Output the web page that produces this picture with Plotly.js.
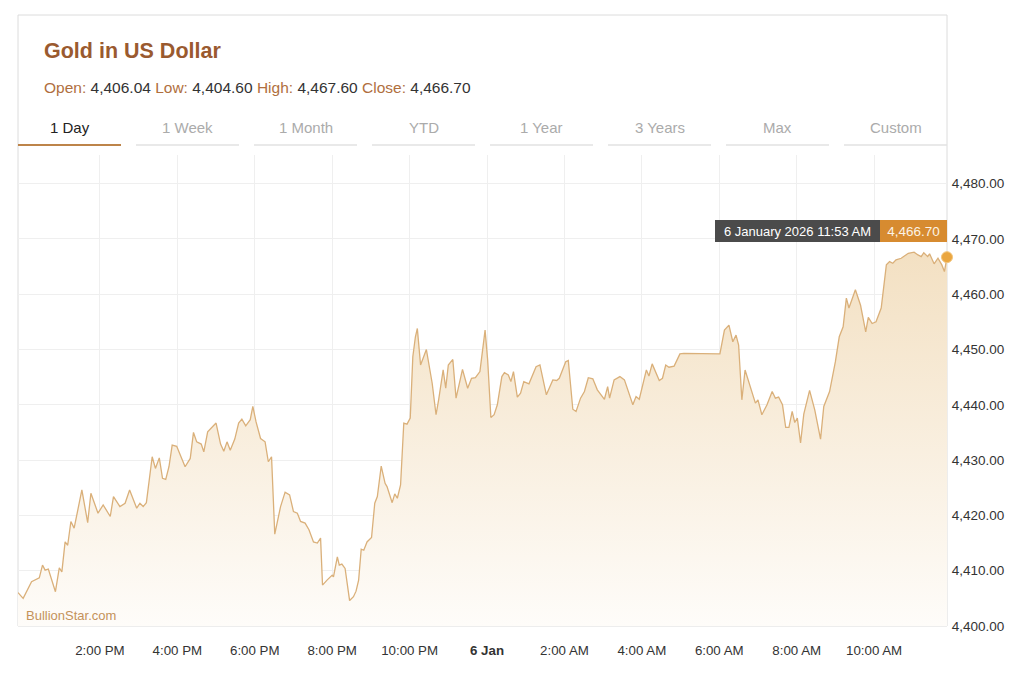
<!DOCTYPE html>
<html><head><meta charset="utf-8">
<script src="https://cdn.plot.ly/plotly-3.0.1.min.js"></script>
<style>html,body{margin:0;padding:0;background:#fff;}#chart{width:1024px;height:674px;}</style>
</head><body><div id="chart"></div>
<script>
const chartTitle = 'Gold in US Dollar';
const statLabels = ['Open', 'Low', 'High', 'Close'];
const statValues = [4406.04, 4404.60, 4467.60, 4466.70];
const tabLabels = ['1 Day', '1 Week', '1 Month', 'YTD', '1 Year', '3 Years', 'Max', 'Custom'];
const watermark = 'BullionStar.com';
const lastLabel = '6 January 2026 11:53 AM';

const timesJan5 = ['11:53','12:01','12:14','12:26','12:31','12:35','12:40','12:51','12:57','13:01','13:06','13:10','13:15','13:20','13:32','13:41','13:46','13:57','14:05','14:16','14:21','14:31','14:39','14:46','14:57','15:02','15:07','15:12','15:21','15:26','15:32','15:37','15:42','15:47','15:52','15:59','16:12','16:20','16:25','16:30','16:37','16:41','16:47','17:00','17:07','17:12','17:17','17:22','17:29','17:35','17:40','17:46','17:53','17:57','18:02','18:09','18:16','18:21','18:26','18:31','18:40','18:47','18:54','19:00','19:06','19:11','19:18','19:24','19:31','19:37','19:42','19:45','19:52','20:00','20:02','20:08','20:11','20:15','20:20','20:27','20:33','20:37','20:41','20:45','20:49','20:54','21:01','21:06','21:10','21:16','21:22','21:25','21:33','21:37','21:41','21:46','21:51','21:56','22:01','22:05','22:09','22:12','22:17','22:26','22:35','22:41','22:45','22:52','22:56','23:00','23:07','23:12','23:22','23:30','23:36','23:42','23:49','23:57'];
const pricesJan5 = [4406.04,4405.0,4408.0,4408.7,4411.0,4410.1,4410.3,4406.2,4410.5,4409.8,4415.2,4414.6,4418.9,4417.7,4424.6,4418.7,4424.0,4420.4,4421.9,4419.8,4423.4,4421.6,4422.2,4424.6,4421.3,4422.2,4421.6,4422.3,4430.6,4428.5,4430.4,4426.7,4426.5,4428.8,4432.7,4432.5,4428.8,4430.3,4435.0,4433.3,4432.9,4431.5,4435.1,4436.7,4432.9,4431.6,4433.3,4431.8,4433.8,4436.7,4437.4,4436.2,4437.3,4439.7,4436.9,4433.9,4433.3,4429.7,4430.6,4416.6,4421.6,4424.2,4423.7,4420.7,4420.4,4418.9,4418.6,4417.4,4415.2,4415.0,4415.9,4407.4,4408.3,4409.2,4408.9,4412.5,4411.0,4411.2,4410.4,4404.6,4405.3,4406.3,4408.3,4413.9,4413.7,4415.2,4416.0,4422.2,4423.4,4428.9,4425.8,4425.2,4422.3,4423.9,4423.1,4425.5,4436.7,4436.5,4437.6,4448.7,4452.3,4453.8,4447.2,4450.0,4443.9,4438.2,4440.9,4446.3,4443.0,4447.2,4448.2,4441.2,4446.4,4443.0,4444.8,4444.9,4446.0,4453.5];
const timesJan6 = ['00:01','00:06','00:11','00:16','00:23','00:27','00:33','00:37','00:41','00:47','00:52','00:57','01:05','01:16','01:22','01:32','01:42','01:48','01:52','02:02','02:06','02:13','02:18','02:25','02:31','02:37','02:44','02:51','03:02','03:07','03:10','03:17','03:26','03:33','03:46','03:51','03:56','04:07','04:11','04:16','04:27','04:32','04:37','04:42','04:50','04:59','05:05','06:01','06:08','06:15','06:21','06:26','06:30','06:35','06:40','06:48','06:56','07:00','07:06','07:14','07:22','07:27','07:32','07:38','07:43','07:48','07:53','07:57','08:01','08:06','08:11','08:20','08:28','08:37','08:42','08:51','09:00','09:06','09:12','09:17','09:21','09:31','09:39','09:47','09:51','09:57','10:03','10:11','10:19','10:24','10:29','10:34','10:42','10:53','11:02','11:08','11:13','11:17','11:23','11:26','11:33','11:39','11:45','11:49','11:51','11:53'];
const pricesJan6 = [4448.1,4437.7,4438.2,4440.0,4445.1,4445.8,4445.4,4444.2,4446.0,4441.4,4442.1,4444.2,4443.8,4446.9,4447.2,4441.8,4444.5,4444.4,4444.8,4447.8,4448.0,4439.2,4438.8,4441.2,4442.4,4444.9,4444.7,4442.7,4441.0,4443.3,4441.2,4444.5,4445.1,4444.5,4440.0,4441.5,4441.0,4446.3,4445.2,4447.4,4444.4,4444.8,4447.2,4446.8,4447.0,4449.2,4449.3,4449.2,4453.5,4454.4,4451.4,4452.6,4450.8,4440.9,4446.3,4443.3,4440.3,4440.9,4438.2,4440.0,4442.4,4441.2,4441.4,4440.0,4435.9,4435.9,4438.8,4436.8,4437.6,4433.1,4438.3,4442.6,4439.1,4433.8,4439.7,4442.4,4447.8,4452.3,4454.1,4459.3,4457.5,4460.8,4458.0,4453.2,4455.8,4454.7,4455.0,4457.5,4465.3,4465.9,4465.6,4466.2,4466.5,4467.4,4467.6,4467.1,4466.8,4467.5,4466.8,4467.3,4465.5,4466.5,4465.3,4464.1,4465.3,4466.70];

const xTickVals = ['2026-01-05 14:00','2026-01-05 16:00','2026-01-05 18:00','2026-01-05 20:00','2026-01-05 22:00','2026-01-06 00:00','2026-01-06 02:00','2026-01-06 04:00','2026-01-06 06:00','2026-01-06 08:00','2026-01-06 10:00'];
const xTickText = ['2:00 PM','4:00 PM','6:00 PM','8:00 PM','10:00 PM','<b>6 Jan</b>','2:00 AM','4:00 AM','6:00 AM','8:00 AM','10:00 AM'];
const yTickVals = [4400, 4410, 4420, 4430, 4440, 4450, 4460, 4470, 4480];

const times = timesJan5.map(t => '2026-01-05 ' + t).concat(timesJan6.map(t => '2026-01-06 ' + t));
const prices = pricesJan5.concat(pricesJan6);
const n = prices.length;
const fmt = v => v.toLocaleString('en-US', {minimumFractionDigits: 2, maximumFractionDigits: 2});

// geometry (pixels)
const W = 1024, H = 674;
const L = 18, R = 947, T = 155, B = 626;
const pw = R - L, ph = B - T;
const px = x => (x - L) / pw;
const py = y => (B - y) / ph;
const FONT = 'Liberation Sans, Arial, Helvetica, sans-serif';
const xRange = [times[0], times[n - 1]];
const yRange = [4400, 4400 + ph / 5.53];

const traces = [
  {
    x: times, y: prices, type: 'scatter', mode: 'lines',
    line: {color: '#dab07a', width: 1.3},
    fill: 'tozeroy',
    fillgradient: {type: 'vertical', start: 4400, stop: 4468,
      colorscale: [[0, '#fefcf9'], [1, '#f3e0c2']]},
    hoverinfo: 'skip', showlegend: false
  },
  {
    x: [times[n - 1]], y: [prices[n - 1]], type: 'scatter', mode: 'markers',
    xaxis: 'x2', yaxis: 'y2',
    marker: {size: 11, color: '#eaa640', line: {color: '#f3c57c', width: 1}},
    cliponaxis: false, hoverinfo: 'skip', showlegend: false
  }
];

const shapes = [
  {type: 'rect', xref: 'paper', yref: 'paper', x0: 0, x1: 1, y0: 0, y1: py(15),
   line: {color: '#dcdcdc', width: 1}, fillcolor: 'rgba(0,0,0,0)', layer: 'below'}
];
const annotations = [];
tabLabels.forEach((lab, i) => {
  const x0 = L + i * 118, x1 = x0 + 103;
  shapes.push({type: 'line', xref: 'paper', yref: 'paper', x0: px(x0), x1: px(x1), y0: py(145), y1: py(145),
    line: {color: i === 0 ? '#bd844a' : '#e2e2e2', width: i === 0 ? 2.2 : 1.5}});
  annotations.push({xref: 'paper', yref: 'paper', x: px((x0 + x1) / 2), y: py(127), xanchor: 'center', yanchor: 'middle',
    text: lab, showarrow: false, font: {family: FONT, size: 15, color: i === 0 ? '#222222' : '#ababab'}});
});

annotations.push({xref: 'paper', yref: 'paper', x: px(42), y: py(51), xanchor: 'left', yanchor: 'middle',
  text: '<b>' + chartTitle + '</b>', showarrow: false, font: {family: FONT, size: 21.5, color: '#9a5a2f'}});

const statText = statLabels.map((l, i) => '<span style="color:#b06f3e">' + l + ':</span> ' + fmt(statValues[i])).join(' ');
annotations.push({xref: 'paper', yref: 'paper', x: px(42), y: py(87), xanchor: 'left', yanchor: 'middle',
  text: statText, showarrow: false, font: {family: FONT, size: 15.5, color: '#333333'}});

annotations.push({xref: 'paper', yref: 'paper', x: px(24), y: py(615), xanchor: 'left', yanchor: 'middle',
  text: watermark, showarrow: false, font: {family: FONT, size: 13, color: '#c4925a'}});

annotations.push({xref: 'paper', yref: 'paper', x: px(880), y: py(231), xanchor: 'right', yanchor: 'middle',
  text: lastLabel, showarrow: false, bgcolor: '#4b4b4b', width: 165, height: 22, borderpad: 0, borderwidth: 0,
  font: {family: FONT, size: 13, color: '#ffffff'}});
annotations.push({xref: 'paper', yref: 'paper', x: px(880), y: py(231), xanchor: 'left', yanchor: 'middle',
  text: fmt(prices[n - 1]), showarrow: false, bgcolor: '#d78b30', width: 67, height: 22, borderpad: 0, borderwidth: 0,
  font: {family: FONT, size: 13.5, color: '#fbf3e6'}});

const layout = {
  width: W, height: H,
  margin: {l: L, r: W - R, t: T, b: H - B, pad: 0},
  paper_bgcolor: '#ffffff', plot_bgcolor: 'rgba(0,0,0,0)',
  font: {family: FONT, color: '#333333'},
  showlegend: false,
  xaxis: {
    type: 'date', range: xRange,
    tickmode: 'array', tickvals: xTickVals, ticktext: xTickText,
    showgrid: true, gridcolor: '#efefef', gridwidth: 1,
    zeroline: false, showline: false,
    ticks: 'outside', ticklen: 12, tickcolor: 'rgba(0,0,0,0)',
    tickfont: {family: FONT, size: 13.3, color: '#333333'}, fixedrange: true
  },
  yaxis: {
    side: 'right', range: yRange,
    tickmode: 'array', tickvals: yTickVals, tickformat: ',.2f',
    showgrid: true, gridcolor: '#efefef', gridwidth: 1,
    zeroline: false, showline: false,
    ticks: 'outside', ticklen: 1, tickcolor: 'rgba(0,0,0,0)',
    tickfont: {family: FONT, size: 13.5, color: '#333333'}, fixedrange: true
  },
  xaxis2: {type: 'date', range: xRange, domain: [0, 1], anchor: 'y2', visible: false, fixedrange: true},
  yaxis2: {range: yRange, domain: [0, 1], anchor: 'x2', visible: false, fixedrange: true},
  shapes: shapes,
  annotations: annotations
};

Plotly.newPlot('chart', traces, layout, {displayModeBar: false});
</script>
</body></html>
